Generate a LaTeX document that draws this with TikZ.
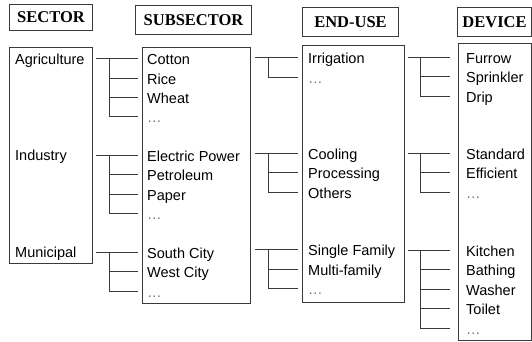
\documentclass[tikz,border=0pt]{standalone}
\usepackage{fontspec}
\setmainfont{Liberation Sans}
\newfontfamily\headfont{Liberation Serif}
\usetikzlibrary{calc}
\definecolor{ln}{HTML}{3A3A3A}
\newcommand\treeconn[7]{% #1 parent box, #2 child box, #3 first child, #4 other children, #5 start gap, #6 vertical offset, #7 end gap
  \draw[conn] ([xshift=#5]#1.east |- #3r) -- ([xshift=-#7]#2.west |- #3r);
  \foreach \c in {#4} \draw[conn] ([xshift=#6]#1.east |- #3r) |- ([xshift=-#7]#2.west |- \c r);
}
\begin{document}
\begin{tikzpicture}[x=1pt,y=-1pt,
  boxst/.style={draw=ln, line width=1pt, inner sep=0, anchor=north west},
  head/.style={boxst, font=\headfont\bfseries\fontsize{16.5}{18}\selectfont},
  txt/.style={anchor=base west, inner sep=0, font=\fontsize{14.5}{17}\selectfont},
  dots/.style={txt, text=black!55},
  conn/.style={draw=ln, line width=1pt}]
\useasboundingbox (0,0) rectangle (532,341);
% headers
\node[head, minimum width=83pt, minimum height=26pt] (h1) at (9,4) {SECTOR};
\node[head, minimum width=116pt, minimum height=29pt] (h2) at (135,5) {SUBSECTOR};
\node[head, minimum width=96pt, minimum height=29pt] (h3) at (302,7) {END-USE};
\node[head, minimum width=74pt, minimum height=29pt] (h4) at (457,7) {DEVICE};
% main boxes
\node[boxst, minimum width=83pt, minimum height=216pt] (secbox) at (9,47) {};
\node[boxst, minimum width=108pt, minimum height=256pt] (subbox) at (142,47) {};
\node[boxst, minimum width=102pt, minimum height=257pt] (endbox) at (302,45) {};
\node[boxst, minimum width=73pt, minimum height=297pt] (devbox) at (458,43) {};
% texts
\newcommand\tx[4]{\node[#1] (#2) at (#3) {#4}; \coordinate (#2r) at ([yshift=6pt]#2.base west);}
% sector
\tx{txt}{agr}{15,64}{Agriculture}
\tx{txt}{ind}{15,160}{Industry}
\tx{txt}{mun}{15,257}{Municipal}
% subsector
\tx{txt}{cot}{147,64.5}{Cotton}
\tx{txt}{ric}{147,84}{Rice}
\tx{txt}{whe}{147,103.5}{Wheat}
\tx{dots}{sa}{147,122.5}{\ldots}
\tx{txt}{ele}{147,161}{Electric Power}
\tx{txt}{pet}{147,180.5}{Petroleum}
\tx{txt}{pap}{147,200}{Paper}
\tx{dots}{sb}{147,219.5}{\ldots}
\tx{txt}{sou}{147,258}{South City}
\tx{txt}{wes}{147,277.5}{West City}
\tx{dots}{sc}{147,297}{\ldots}
% end-use
\tx{txt}{irr}{308,63.5}{Irrigation}
\tx{dots}{ea}{308,83}{\ldots}
\tx{txt}{coo}{308,159}{Cooling}
\tx{txt}{pro}{308,178.5}{Processing}
\tx{txt}{oth}{308,198}{Others}
\tx{txt}{sin}{308,255.5}{Single Family}
\tx{txt}{mul}{308,275}{Multi-family}
\tx{dots}{ec}{308,294.5}{\ldots}
% device
\tx{txt}{fur}{466,63}{Furrow}
\tx{txt}{spr}{466,82.5}{Sprinkler}
\tx{txt}{dri}{466,102}{Drip}
\tx{txt}{sta}{466,159}{Standard}
\tx{txt}{eff}{466,178.5}{Efficient}
\tx{dots}{da}{466,198}{\ldots}
\tx{txt}{kit}{466,256}{Kitchen}
\tx{txt}{bat}{466,275.5}{Bathing}
\tx{txt}{was}{466,295}{Washer}
\tx{txt}{toi}{466,314.5}{Toilet}
\tx{dots}{db}{466,334}{\ldots}
% connectors
\treeconn{secbox}{subbox}{cot}{ric,whe,sa}{3pt}{16pt}{4pt}
\treeconn{secbox}{subbox}{ele}{pet,pap,sb}{3pt}{16pt}{4pt}
\treeconn{secbox}{subbox}{sou}{wes,sc}{3pt}{16pt}{4pt}
\treeconn{subbox}{endbox}{irr}{ea}{4pt}{17pt}{4pt}
\treeconn{subbox}{endbox}{coo}{pro,oth}{4pt}{17pt}{4pt}
\treeconn{subbox}{endbox}{sin}{mul,ec}{4pt}{17pt}{4pt}
\treeconn{endbox}{devbox}{fur}{spr,dri}{3pt}{15pt}{8pt}
\treeconn{endbox}{devbox}{sta}{eff,da}{3pt}{15pt}{8pt}
\treeconn{endbox}{devbox}{kit}{bat,was,toi,db}{3pt}{15pt}{8pt}
\end{tikzpicture}
\end{document}
